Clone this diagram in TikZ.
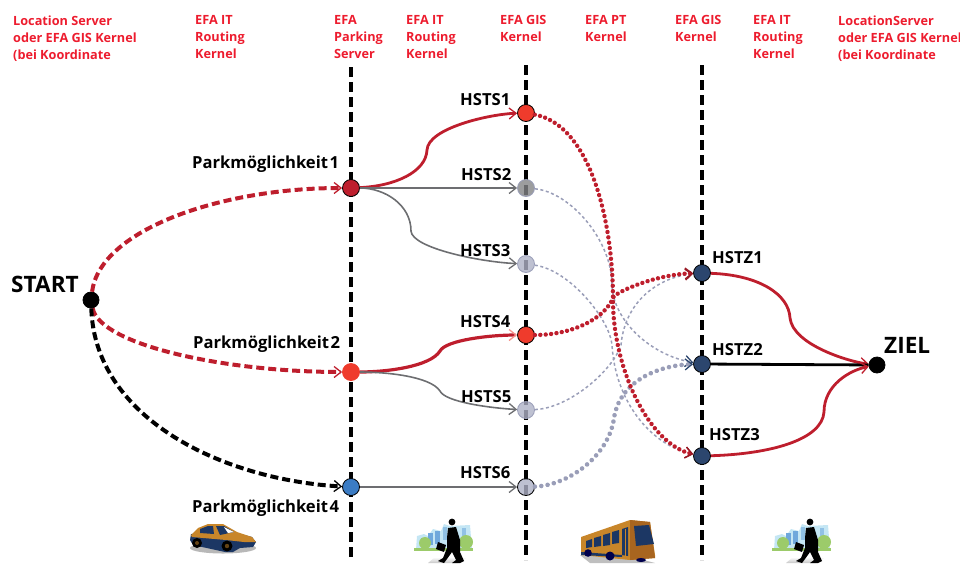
\documentclass[tikz,border=0pt]{standalone}
\usepackage{fontspec}
\setmainfont{Open Sans}
\usetikzlibrary{arrows.meta}
\definecolor{hdr}{HTML}{ED1C2E}
\definecolor{rd}{HTML}{BE1E2D}
\definecolor{brite}{HTML}{EF3B2C}
\definecolor{gy}{HTML}{6D6E71}
\definecolor{lav}{HTML}{9A9EB8}
\definecolor{navy}{HTML}{2C466E}
\definecolor{blu}{HTML}{3B7CC4}
\definecolor{orng}{HTML}{C8862A}
\definecolor{dorng}{HTML}{A8651F}
\definecolor{bnavy}{HTML}{1C3764}
\definecolor{pale}{HTML}{C4E6F4}
\definecolor{bldg}{HTML}{6FA8DC}
\definecolor{leaf}{HTML}{9CCB6A}
\tikzset{
  x=1pt,y=-1pt,
  head/.style={font=\fontsize{12.7}{17}\selectfont\bfseries,text=hdr,anchor=north west,align=left,inner sep=0pt},
  lab/.style={font=\fontsize{16.6}{18}\selectfont\bfseries,text=black,anchor=base west,inner sep=0pt},
  big/.style={font=\fontsize{22.6}{24}\selectfont\bfseries,text=black,anchor=base west,inner sep=0pt},
  stop/.style={circle,draw=black,line width=.8pt,minimum size=17pt,inner sep=0pt,fill=#1},
  soft/.style={circle,draw=black,line width=.8pt,minimum size=17pt,inner sep=0pt,fill=#1,fill opacity=.8},
  axis/.style={line width=3.6pt,dash pattern=on 10pt off 5pt},
  tip/.style={-{Straight Barb[length=7pt,width=11pt,color=#1,line width=1.3pt]}},
  cardash/.style={line width=4pt,dash pattern=on 8pt off 4pt},
  walk/.style={rd,line width=2.8pt},
  thin/.style={gy,line width=1.6pt},
  reddot/.style={rd,line width=4.4pt,line cap=round,dash pattern=on .01pt off 5.4pt},
  laxdot/.style={lav,line width=1.5pt,dash pattern=on 3pt off 2.6pt},
  laxfat/.style={lav,line width=4.6pt,line cap=round,dash pattern=on .01pt off 6.4pt},
}
\newcommand{\walker}[2]{%
\begin{scope}[shift={(#1,#2)}]
  \shade[top color=white,bottom color=black!22,draw=none] (435,557) -- (468,557) -- (458,563) -- (428,563) -- cycle;
  \fill[pale] (416,550) -- (417,536) -- (424,534) -- (428,536) -- (433,529) -- (441,531) -- (444,524) -- (450,526) -- (470,525) -- (472,550) -- cycle;
  \fill[bldg] (421,538) rectangle (425,546);
  \fill[bldg] (428,533) rectangle (433,545);
  \fill[bldg] (435,531) rectangle (440,544);
  \fill[bldg!60!pale] (443,527) rectangle (447,540);
  \fill[bldg!60!pale] (462,528) rectangle (466,536);
  \fill[leaf] (425,543) circle (6);
  \fill[leaf] (466,542) circle (7);
  \fill[leaf] (414,548) rectangle (473,550.5);
  \fill[black] (452,522) circle (3.4);
  \fill[black] (448,528) -- (456,527) -- (460,540) -- (460,552) -- (464,561) -- (460,563) -- (452,563) -- (456,560) -- (452,552) -- (447,559) -- (444,563) -- (438,561) -- (443,558) -- (447,548) -- (447,538) -- cycle;
  \fill[black] (438,542) -- (446,545) -- (444,552) -- (436,549) -- cycle;
\end{scope}}
\begin{document}
\begin{tikzpicture}
\useasboundingbox (0,0) rectangle (960,563);
% headers
\node[head] (h1) at (13,15.5) {Location Server\\oder EFA GIS Kernel\\(bei Koordinate};
\node[head] (h2) at (195,15.5) {EFA IT\\Routing\\Kernel};
\node[head] (h3) at (334,15.5) {EFA\\Parking\\Server};
\node[head] (h4) at (406,15.5) {EFA IT\\Routing\\Kernel};
\node[head] (h5) at (500,15.5) {EFA GIS\\Kernel};
\node[head] (h6) at (585,15.5) {EFA PT\\Kernel};
\node[head] (h7) at (675,15.5) {EFA GIS\\Kernel};
\node[head] (h8) at (753,15.5) {EFA IT\\Routing\\Kernel};
\node[head] (h9) at (838,15.5) {LocationServer\\oder EFA GIS Kernel\\(bei Koordinate};
% vertical axes
\coordinate (a1t) at (351,67); \coordinate (a1b) at (351,560);
\coordinate (a2t) at (526,65); \coordinate (a2b) at (526,560);
\coordinate (a3t) at (702,65); \coordinate (a3b) at (702,560);
\draw[axis] (a1t) -- (a1b);
\draw[axis] (a2t) -- (a2b);
\draw[axis] (a3t) -- (a3b);
% nodes
\node[stop=black,minimum size=16pt] (start) at (91,300) {};
\node[stop=black,minimum size=16pt] (ziel) at (877,365) {};
\node[stop=rd] (p1) at (351,188) {};
\node[stop=brite,draw=brite] (p2) at (351,372) {};
\node[stop=blu] (p4) at (351,487) {};
\node[stop=brite] (s1) at (526,113) {};
\node[soft=gy!85!white,draw=lav] (s2) at (526,188) {};
\node[soft=lav!80!white,draw=lav] (s3) at (526,264) {};
\node[stop=brite] (s4) at (526,335) {};
\node[soft=lav!80!white,draw=lav] (s5) at (526,410) {};
\node[soft=lav!80!white] (s6) at (526,487) {};
\node[stop=navy] (z1) at (702,273) {};
\node[stop=navy] (z2) at (702,364) {};
\node[stop=navy] (z3) at (702,456) {};
% kink points
\coordinate (k1) at (427,150);
\coordinate (k3) at (411,231);
\coordinate (k4) at (440,351);
\coordinate (k5) at (440,391);
\coordinate (kA) at (613,300);
\coordinate (kB) at (614,296);
\coordinate (kC) at (612,285);
\coordinate (kD) at (612,345);
\coordinate (kE) at (621,345);
\coordinate (kF) at (614,418);
\coordinate (kz1) at (790,318);
\coordinate (kz3) at (824,412);
% thin grey dotted PT links
\draw[laxdot,tip=navy] (s2) .. controls (570,192) and (612,240) .. (kC) .. controls (613,320) and (650,355) .. (z2);
\draw[laxdot,tip={rd!80!black}] (s3) .. controls (570,270) and (610,320) .. (kD) .. controls (615,400) and (650,445) .. (z3);
\draw[laxdot,tip={rd!80!black}] (s5) .. controls (570,408) and (613,370) .. (kE) .. controls (625,300) and (660,277) .. (z1);
% fat PT links
\draw[laxfat,tip=navy] (s6) .. controls (570,485) and (609,455) .. (kF) .. controls (620,380) and (660,365) .. (z2);
\draw[reddot,tip={rd!80!black}] (s1) .. controls (590,125) and (613,220) .. (kA) .. controls (613,370) and (650,445) .. (z3);
\draw[reddot,tip={rd!80!black}] (s4) .. controls (570,335) and (605,320) .. (kB) .. controls (630,285) and (665,274) .. (z1);
% car legs
\draw[rd,cardash,tip=rd] (start) .. controls (100,230) and (220,188) .. (p1);
\draw[rd,cardash,tip=rd] (start) .. controls (100,345) and (225,372) .. (p2);
\draw[black,cardash,tip=black] (start) .. controls (95,420) and (225,480) .. (p4);
% walk to boarding stop
\draw[walk,tip=rd] (p1) .. controls (395,186) and (426,172) .. (k1) .. controls (428,128) and (490,114) .. (s1);
\draw[thin,tip=gy] (p1) -- (s2);
\draw[thin,tip=gy] (p1) .. controls (385,188) and (411,205) .. (k3) .. controls (412,248) and (480,262) .. (s3);
\draw[rd,line width=3.2pt,tip={brite!55!white}] (p2) .. controls (385,372) and (430,367) .. (k4) .. controls (446,340) and (490,335) .. (s4);
\draw[thin,tip=gy] (p2) .. controls (385,372) and (430,376) .. (k5) .. controls (445,402) and (490,408) .. (s5);
\draw[thin,tip=gy] (p4) -- (s6);
% walk to destination
\draw[walk,tip=rd] (z1) .. controls (760,275) and (789,295) .. (kz1) .. controls (793,345) and (850,362) .. (ziel);
\draw[black,line width=2.8pt] (z2) -- (ziel);
\draw[walk,tip=rd] (z3) .. controls (770,454) and (822,440) .. (kz3) .. controls (824,385) and (850,370) .. (ziel);
% labels
\node[lab] (lp1) at (192,168) {Parkmöglichkeit\hspace{.1em}1};
\node[lab] (lp2) at (193,348) {Parkmöglichkeit\hspace{.1em}2};
\node[lab] (lp4) at (192,512) {Parkmöglichkeit\hspace{.1em}4};
\node[lab] (ls1) at (460,105) {HSTS1};
\node[lab] (ls2) at (461,180) {HSTS2};
\node[lab] (ls3) at (460,256) {HSTS3};
\node[lab] (ls4) at (460,327) {HSTS4};
\node[lab] (ls5) at (461,402) {HSTS5};
\node[lab] (ls6) at (460,478) {HSTS6};
\node[lab] (lz1) at (712,263) {HSTZ1};
\node[lab] (lz2) at (712,355) {HSTZ2};
\node[lab] (lz3) at (709,440) {HSTZ3};
\node[big] (lstart) at (11,292) {START};
\node[big] (lziel) at (884,353) {ZIEL};
% car
\fill[black!28] (223,548) ellipse (33 and 5.5);
\fill[bnavy] (191,534) -- (237,533) -- (252,537) -- (256,542) -- (253,547) -- (240,548) -- (233,552) -- (225,552) -- (193,545) -- (190,540) -- cycle;
\fill[orng] (191,535) -- (198,528) -- (208,524) -- (223,524) -- (237,532) -- (252,537) -- (256,542) -- (244,542) -- (226,540) -- (192,537) -- cycle;
\fill[bnavy] (200,529) -- (208,526) -- (213,526) -- (214,534) -- (200,533) -- cycle;
\fill[bnavy] (216,526) -- (224,526) -- (234,532) -- (220,535) -- cycle;
\fill[white] (224,527) -- (234,532) -- (228,533) -- cycle;
\fill[black] (197,543) circle (5); \fill[orng!50!black] (197,543) circle (2);
\fill[black] (227,546) circle (5.5); \fill[orng!50!black] (227,546) circle (2.2);
% bus
\fill[black!25] (580,555) -- (640,559) -- (655,563) -- (590,563) -- cycle;
\fill[orng] (581,537) -- (630,520) -- (650,522) -- (655,555) -- (655,558) -- (630,560) -- (581,555) -- cycle;
\fill[dorng] (630,520) -- (650,522) -- (655,558) -- (630,560) -- cycle;
\fill[bnavy] (586,541) -- (592,539) -- (592,547) -- (586,548) -- cycle;
\fill[bnavy] (594,538) -- (601,536) -- (601,546) -- (594,547) -- cycle;
\fill[bnavy] (603,535) -- (610,533) -- (610,545) -- (603,546) -- cycle;
\fill[bnavy] (612,532) -- (619,530) -- (619,543) -- (612,544) -- cycle;
\fill[bnavy] (622,529) -- (628,527) -- (628,556) -- (622,555) -- cycle;
\fill[orng] (624.5,529) rectangle (625.5,556);
\fill[bnavy] (634,526) -- (649,525) -- (654,544) -- (636,546) -- cycle;
\fill[bnavy] (581,552) -- (622,555) -- (622,557) -- (581,555) -- cycle;
\fill[black!70!blue] (588,553) circle (3.8);
\fill[black!70!blue] (610,556) circle (4.5);
\fill[black!70!blue] (641,560) ellipse (5 and 2);
% pedestrians
\walker{0}{0}
\walker{358}{0}
\end{tikzpicture}
\end{document}
